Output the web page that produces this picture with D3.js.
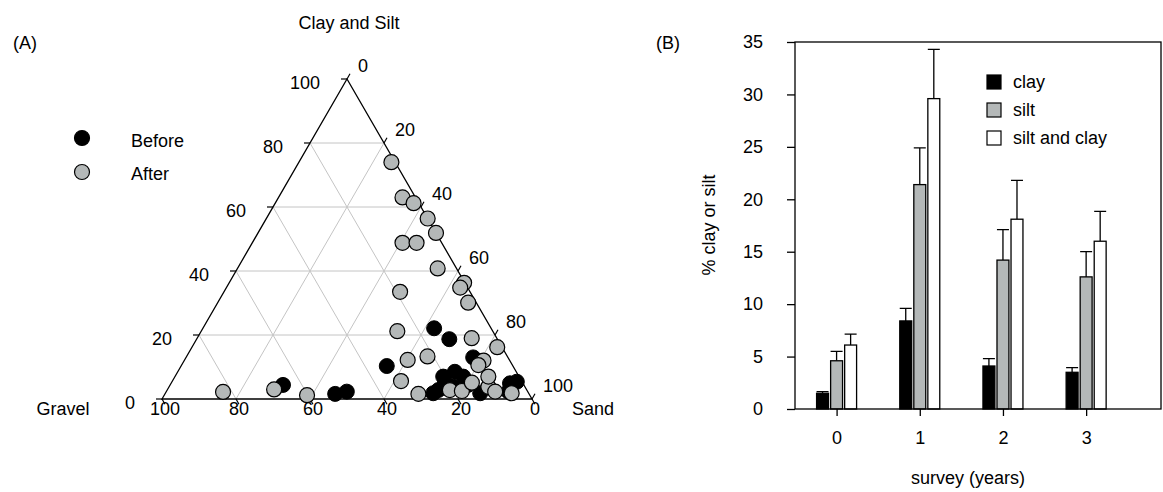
<!DOCTYPE html>
<meta charset="utf-8">
<style>
body{margin:0;background:#fff}
svg{font-family:Arial,"Liberation Sans",sans-serif;font-size:18px}
</style>
<svg id="chart" width="1163" height="492"></svg>
<script src="https://d3js.org/d3.v7.min.js"></script>
<script>

// ternary data: [gravel, sand, clay+silt] in %
var before = [
  [15.4,62.5,22.1],[13,68.3,18.7],[34.1,55.6,10.3],[48.9,48.8,2.3],[9.4,77.6,13],
  [20.5,72.5,7],[16.6,74.9,8.5],[15.1,77.9,7],[23.9,73.3,2.8],[25.8,72.4,1.8],
  [13.1,85.1,1.8],[3.5,91.6,4.9],[1.4,93.2,5.4],[5.2,92.5,2.3],[19.4,76.8,3.8],
  [65.1,30.5,4.4],[52.4,46,1.6],[21,74,5],[15.1,80.5,4.4]
];
var after = [
  [1,25,74],[3.5,33.5,63],[1.4,37.4,61.2],[0,43.6,56.4],[0,48.1,51.9],
  [10.6,40.6,48.8],[6.8,44.4,48.8],[5.1,54.1,40.8],[0.2,63.5,36.3],[2,63.2,34.8],
  [2.2,67.7,30.1],[18.9,47.6,33.5],[25.8,53,21.2],[6.8,74.2,19],[1.3,82.5,16.2],
  [27.5,60.3,12.2],[21.6,65.1,13.3],[32.6,61.8,5.6],[29.9,68.5,1.6],[7.1,80.9,12],
  [9.2,80.2,10.6],[20.8,76.4,2.8],[17.7,79.8,2.5],[13.7,81.2,5.1],[9.9,86.3,3.8],
  [8.8,88.9,2.3],[4.6,93.6,1.8],[8.3,84.7,7],[82.4,15.4,2.2],[68.2,28.8,3],[60.2,38.6,1.2]
];
var ternTicks = [0,20,40,60,80,100];

// bar data
var surveys = [0,1,2,3];
var clay = [1.5, 8.4, 4.1, 3.5];
var clayErr = [0.15, 1.2, 0.7, 0.45];
var silt = [4.6, 21.4, 14.2, 12.6];
var siltErr = [0.9, 3.5, 2.9, 2.4];
var siltClay = [6.1, 29.6, 18.1, 16.0];
var siltClayErr = [1.05, 4.7, 3.7, 2.85];
var yTicks = [0,5,10,15,20,25,30,35];

var grey = "#b4b8b8";
var svg = d3.select("#chart");

// ---------- (A) ternary ----------
var tx = d3.scaleLinear().domain([0,100]).range([162,532]);
var ty = d3.scaleLinear().domain([0,100]).range([399,79]);
function pt(g,s,c){ return [tx(s + c/2), ty(c)]; }

var A = svg.append("g");

var gridK = [20,40,60,80];
var gl = [];
gridK.forEach(function(k){
  gl.push([pt(100-k,0,k), pt(0,100-k,k)]);
  gl.push([pt(100-k,k,0), pt(0,k,100-k)]);
  gl.push([pt(k,100-k,0), pt(k,0,100-k)]);
});
A.selectAll(".grid").data(gl).enter().append("line")
  .attr("x1", d => d[0][0]).attr("y1", d => d[0][1])
  .attr("x2", d => d[1][0]).attr("y2", d => d[1][1])
  .attr("stroke", "#c4c4c4").attr("stroke-width", 1);

A.append("path")
  .attr("d", d3.line()([pt(100,0,0), pt(0,100,0), pt(0,0,100)]) + "Z")
  .attr("fill", "none").attr("stroke", "#000").attr("stroke-width", 1.3);

var tl = 6;
ternTicks.forEach(function(k){
  // gravel axis (bottom)
  var p = pt(k,100-k,0);
  A.append("line").attr("x1",p[0]).attr("y1",p[1]).attr("x2",p[0]+tl*0.5).attr("y2",p[1]+tl*0.866)
    .attr("stroke","#000").attr("stroke-width",1.2);
  A.append("text").attr("x",p[0]+3).attr("y",409).attr("dy","0.35em")
    .attr("text-anchor","middle").text(k);
  // clay and silt axis (left)
  p = pt(100-k,0,k);
  A.append("line").attr("x1",p[0]).attr("y1",p[1]).attr("x2",p[0]-tl).attr("y2",p[1])
    .attr("stroke","#000").attr("stroke-width",1.2);
  A.append("text").attr("x",p[0]-27).attr("y",p[1]+4).attr("dy","0.35em")
    .attr("text-anchor","end").text(k);
  // sand axis (right)
  p = pt(0,k,100-k);
  A.append("line").attr("x1",p[0]).attr("y1",p[1]).attr("x2",p[0]+tl*0.5).attr("y2",p[1]-tl*0.866)
    .attr("stroke","#000").attr("stroke-width",1.2);
  A.append("text").attr("x",p[0]+11).attr("y",p[1]-13).attr("dy","0.35em")
    .attr("text-anchor","start").text(k);
});

A.append("text").attr("x",63).attr("y",409).attr("dy","0.35em").attr("text-anchor","middle").text("Gravel");
A.append("text").attr("x",593).attr("y",409).attr("dy","0.35em").attr("text-anchor","middle").text("Sand");
A.append("text").attr("x",349).attr("y",23).attr("dy","0.35em").attr("text-anchor","middle").text("Clay and Silt");
A.append("text").attr("x",13).attr("y",43).attr("dy","0.35em").text("(A)");

A.selectAll(".before").data(before).enter().append("circle")
  .attr("cx", d => pt(d[0],d[1],d[2])[0]).attr("cy", d => pt(d[0],d[1],d[2])[1])
  .attr("r", 7.5).attr("fill","#000").attr("stroke","#000").attr("stroke-width",1);
A.selectAll(".after").data(after).enter().append("circle")
  .attr("cx", d => pt(d[0],d[1],d[2])[0]).attr("cy", d => pt(d[0],d[1],d[2])[1])
  .attr("r", 7.5).attr("fill",grey).attr("stroke","#000").attr("stroke-width",1.2);

var legA = [{name:"Before", fill:"#000"}, {name:"After", fill:grey}];
A.selectAll(".legA").data(legA).enter().append("circle")
  .attr("cx", 82).attr("cy", (d,i) => 138 + i*34).attr("r", 7.5)
  .attr("fill", d => d.fill).attr("stroke","#000").attr("stroke-width",1.2);
A.selectAll(".legAt").data(legA).enter().append("text")
  .attr("x", 131).attr("y", (d,i) => 141 + i*33).attr("dy","0.35em").text(d => d.name);

// ---------- (B) bars ----------
var B = svg.append("g");
var x = d3.scaleLinear().domain([-0.5, 3.9]).range([795, 1161]);
var y = d3.scaleLinear().domain([0, 35]).range([409, 42]);

var series = [
  {key:"clay", vals:clay, err:clayErr, fill:"#000"},
  {key:"silt", vals:silt, err:siltErr, fill:grey},
  {key:"silt and clay", vals:siltClay, err:siltClayErr, fill:"#fff"}
];
var sub = d3.scaleBand().domain(series.map(d => d.key)).range([-20, 20]).paddingInner(0.15);

var rows = [];
series.forEach(function(s){
  surveys.forEach(function(v,i){ rows.push({key:s.key, fill:s.fill, survey:v, val:s.vals[i], err:s.err[i]}); });
});

B.selectAll(".err").data(rows).enter().append("path")
  .attr("d", function(d){
    var cx = x(d.survey) + sub(d.key) + sub.bandwidth()/2;
    var top = y(d.val + d.err);
    return "M" + cx + "," + y(d.val) + "V" + top + "M" + (cx-6) + "," + top + "H" + (cx+6);
  })
  .attr("stroke","#000").attr("stroke-width",1.3).attr("fill","none");

B.selectAll(".bar").data(rows).enter().append("rect")
  .attr("x", d => x(d.survey) + sub(d.key))
  .attr("y", d => y(d.val))
  .attr("width", sub.bandwidth())
  .attr("height", d => y(0) - y(d.val))
  .attr("fill", d => d.fill).attr("stroke","#000").attr("stroke-width",1.3);

B.append("rect").attr("x",795).attr("y",y(35)).attr("width",1161-795).attr("height",y(0)-y(35))
  .attr("fill","none").attr("stroke","#000").attr("stroke-width",1.3);

var yAxis = B.append("g").attr("transform","translate(795,0)")
  .call(d3.axisLeft(y).tickValues(yTicks).tickSize(8).tickSizeOuter(0).tickPadding(24));
var xAxis = B.append("g").attr("transform","translate(0,409)")
  .call(d3.axisBottom(x).tickValues(surveys).tickFormat(d3.format("d")).tickSize(7).tickSizeOuter(0).tickPadding(15));
[yAxis, xAxis].forEach(function(a){
  a.select(".domain").remove();
  a.selectAll("line").attr("stroke","#000").attr("stroke-width",1.3);
  a.selectAll("text").attr("font-size","18px").attr("font-family","Arial, Liberation Sans, sans-serif").attr("fill","#000");
});

B.append("text").attr("transform","translate(709,225) rotate(-90)").attr("dy","0.35em")
  .attr("text-anchor","middle").text("% clay or silt");
B.append("text").attr("x",968).attr("y",478).attr("dy","0.35em").attr("text-anchor","middle").text("survey (years)");
B.append("text").attr("x",656).attr("y",43).attr("dy","0.35em").text("(B)");

var leg = B.selectAll(".leg").data(series).enter().append("g")
  .attr("transform", (d,i) => "translate(987," + (82 + i*28) + ")");
leg.append("rect").attr("x",0).attr("y",-7).attr("width",14).attr("height",14)
  .attr("fill", d => d.fill).attr("stroke","#000").attr("stroke-width",1.2);
leg.append("text").attr("x",26).attr("y",0).attr("dy","0.35em").text(d => d.key);

</script>
